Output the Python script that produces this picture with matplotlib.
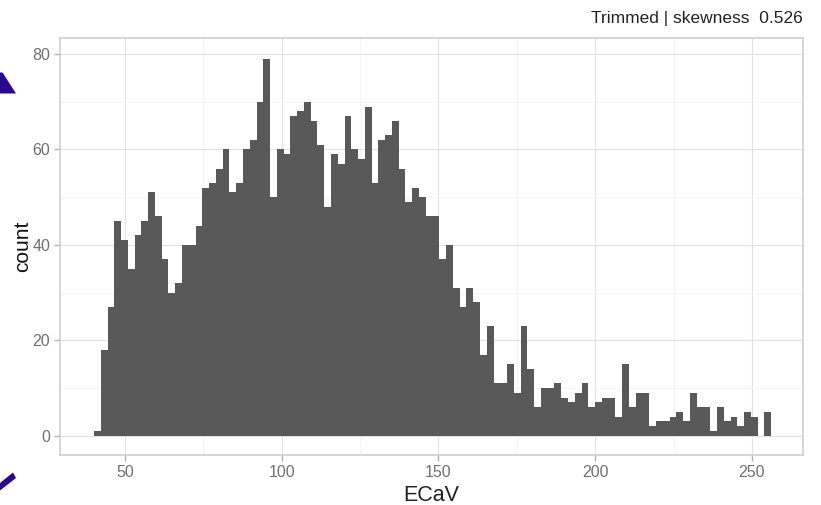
import matplotlib
matplotlib.use("Agg")
import matplotlib.pyplot as plt
import numpy as np
from matplotlib.patches import Polygon
from matplotlib.ticker import MultipleLocator

# ---- data ----
bin_start = 40.11
bin_width = 2.16
counts = [1, 18, 27, 45, 41, 35, 42, 45, 51, 46,
          37, 30, 32, 40, 40, 44, 52, 53, 56, 60,
          51, 53, 60, 62, 70, 79, 50, 60, 59, 67,
          68, 70, 66, 61, 48, 59, 57, 67, 60, 58,
          69, 53, 62, 63, 66, 56, 49, 52, 50, 46,
          46, 37, 40, 31, 27, 31, 28, 17, 23, 11,
          11, 15, 9, 23, 14, 6, 10, 10, 11, 8,
          7, 9, 11, 6, 7, 8, 8, 4, 15, 6,
          9, 9, 2, 3, 3, 4, 5, 3, 9, 6,
          6, 1, 6, 3, 4, 2, 5, 4, 0, 5]
x_ticks = [50, 100, 150, 200, 250]
y_ticks = [0, 20, 40, 60, 80]
title_text = "Trimmed | skewness  0.526"
x_label = "ECaV"
y_label = "count"

FONT = ["Liberation Sans Narrow", "Liberation Sans", "DejaVu Sans"]
plt.rcParams["font.family"] = FONT

W, H = 821, 505
fig = plt.figure(figsize=(W / 100, H / 100), dpi=100)
L, R, T, B = 60, 803, 38, 455
ax = fig.add_axes([L / W, 1 - B / H, (R - L) / W, (B - T) / H])

edges = bin_start + bin_width * np.arange(len(counts))
ax.bar(edges, counts, width=bin_width, align="edge", color="#595959",
       linewidth=0, zorder=3)

ax.set_xlim(29.27, 266.27)
ax.set_ylim(-4.05, 83.36)
ax.set_xticks(x_ticks)
ax.set_yticks(y_ticks)
ax.xaxis.set_minor_locator(MultipleLocator(25))
ax.yaxis.set_minor_locator(MultipleLocator(10))
ax.grid(which="major", color="#E2E2E2", linewidth=0.8, zorder=0)
ax.grid(which="minor", color="#F0F0F0", linewidth=0.5, zorder=0)
ax.tick_params(which="minor", length=0)
ax.tick_params(which="major", length=4, width=1.0, color="#B3B3B3",
               labelcolor="#707070", labelsize=11.5, pad=3)
for s in ax.spines.values():
    s.set_color("#CFCFCF")
    s.set_linewidth(1.2)

ax.set_xlabel(x_label, fontsize=15.5, color="#222222", labelpad=4)
ax.set_ylabel(y_label, fontsize=15, color="#111111", labelpad=0)

fig.text(R / W, 1 - 18 / H, title_text, ha="right", va="center",
         fontsize=12.5, color="#222222")

# partial annotation arrows cut off at the left edge of the image
def px(points):
    return [(x / W, 1 - y / H) for x, y in points]

arrow_col = "#2A0890"
fig.add_artist(Polygon(px([(0, 72.5), (2.5, 72.5), (16, 93.5), (0, 93.5)]),
                       closed=True, transform=fig.transFigure,
                       facecolor=arrow_col, edgecolor="none"))
fig.add_artist(Polygon(px([(0, 483), (13, 472.5), (16, 478), (0, 490.5)]),
                       closed=True, transform=fig.transFigure,
                       facecolor=arrow_col, edgecolor="none"))

fig.savefig("out.png", dpi=100)
